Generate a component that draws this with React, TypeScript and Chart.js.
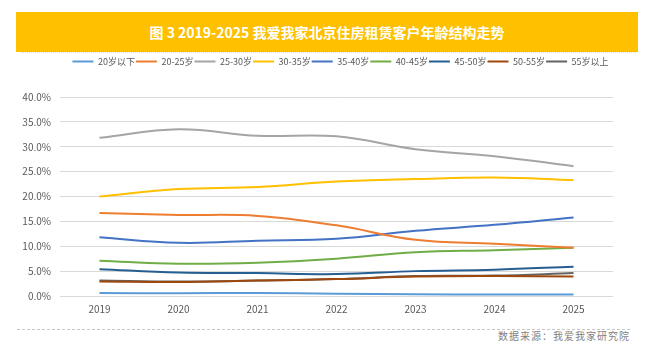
import React, { useEffect, useRef } from "react";
import { Chart, registerables } from "chart.js";

Chart.register(...registerables);

const years = ["2019", "2020", "2021", "2022", "2023", "2024", "2025"];
const seriesNames = ["20岁以下", "20-25岁", "25-30岁", "30-35岁", "35-40岁", "40-45岁", "45-50岁", "50-55岁", "55岁以上"];
const under20 = [0.6, 0.55, 0.6, 0.45, 0.35, 0.3, 0.3];
const age20to25 = [16.7, 16.3, 16.1, 14.2, 11.3, 10.5, 9.7];
const age25to30 = [31.8, 33.5, 32.2, 32.1, 29.5, 28.1, 26.1];
const age30to35 = [20.0, 21.5, 21.9, 23.0, 23.5, 23.8, 23.3];
const age35to40 = [11.8, 10.7, 11.1, 11.5, 13.1, 14.3, 15.8];
const age40to45 = [7.1, 6.5, 6.7, 7.5, 8.8, 9.2, 9.7];
const age45to50 = [5.4, 4.7, 4.6, 4.4, 5.0, 5.3, 5.9];
const age50to55 = [2.9, 2.8, 3.1, 3.4, 3.9, 4.0, 3.9];
const age55plus = [3.1, 2.9, 3.1, 3.4, 4.0, 4.1, 4.6];
const seriesValues = [under20, age20to25, age25to30, age30to35, age35to40, age40to45, age45to50, age50to55, age55plus];
const seriesColors = ["#5B9BD5", "#ED7D31", "#A5A5A5", "#FFC000", "#4472C4", "#70AD47", "#255E91", "#9E480E", "#636363"];

const titleText = "图 3 2019-2025 我爱我家北京住房租赁客户年龄结构走势";
const sourceText = "数据来源：我爱我家研究院";

const FONT = "'Noto Sans CJK SC', 'Noto Sans', sans-serif";

export default function App() {
  const canvasRef = useRef<HTMLCanvasElement | null>(null);

  useEffect(() => {
    if (!canvasRef.current) return;
    const legendHeightPlugin = {
      id: "legendHeight",
      beforeInit(chart: any) {
        const legend = chart.legend;
        if (!legend) return;
        const origFit = legend.fit;
        legend.fit = function () {
          origFit.call(legend);
          legend.height = 41;
        };
      },
      afterLayout(chart: any) {
        const legend = chart.legend;
        if (!legend) return;
        legend.left += 34;
        legend.right += 34;
      },
    };
    const chart = new Chart(canvasRef.current, {
      type: "line",
      data: {
        labels: years,
        datasets: seriesNames.map((name, i) => ({
          label: name,
          data: seriesValues[i],
          borderColor: seriesColors[i],
          backgroundColor: seriesColors[i],
          borderWidth: 2,
          pointRadius: 0,
          pointHoverRadius: 0,
          tension: 0.4,
          fill: false,
        })),
      },
      options: {
        animation: false,
        responsive: false,
        maintainAspectRatio: false,
        layout: { padding: { left: 0, right: 33, top: 0, bottom: 0 } },
        plugins: {
          legend: {
            position: "top",
            labels: {
              usePointStyle: true,
              pointStyle: "line",
              pointStyleWidth: 21,
              boxHeight: 9,
              padding: 1,
              color: "#595959",
              font: { family: FONT, size: 9 },
            },
          },
          tooltip: { enabled: false },
        },
        scales: {
          x: {
            offset: true,
            grid: { display: false, drawTicks: false },
            border: { display: false },
            ticks: { color: "#595959", font: { family: FONT, size: 10 }, padding: 7 },
            afterFit(scale: any) {
              scale.height = 24;
            },
          },
          y: {
            min: 0,
            max: 40,
            grid: { color: "#D9D9D9", lineWidth: 1, drawTicks: false },
            border: { display: false },
            ticks: {
              stepSize: 5,
              color: "#595959",
              padding: 9,
              font: { family: FONT, size: 10 },
              callback: (v: any) => Number(v).toFixed(1) + "%",
            },
            afterFit(scale: any) {
              scale.width = 60;
            },
          },
        },
      },
      plugins: [legendHeightPlugin],
    });
    return () => chart.destroy();
  }, []);

  return (
    <div style={{ position: "fixed", left: 0, top: 0, width: 646, height: 351, background: "#fff", fontFamily: FONT }}>
      <div
        style={{
          position: "absolute",
          left: 16,
          top: 12,
          width: 622,
          height: 40,
          background: "#FFC000",
          color: "#fff",
          fontWeight: 700,
          fontSize: 14,
          lineHeight: "40px",
          textAlign: "center",
          fontFamily: FONT,
        }}
      >
        {titleText}
      </div>
      <div style={{ position: "absolute", left: 21, top: 52, width: 615, height: 0, borderTop: "1px dotted #d8d8d8" }} />
      <canvas ref={canvasRef} width={646} height={264} style={{ position: "absolute", left: 0, top: 56, width: 646, height: 264 }} />
      <div style={{ position: "absolute", left: 17, top: 329, width: 613, height: 0, borderTop: "1px dashed #c8c8c8" }} />
      <div
        style={{
          position: "absolute",
          right: 16,
          top: 329,
          fontSize: 10,
          lineHeight: "14px",
          letterSpacing: 1,
          color: "#7f7f7f",
          fontFamily: FONT,
        }}
      >
        {sourceText}
      </div>
    </div>
  );
}
